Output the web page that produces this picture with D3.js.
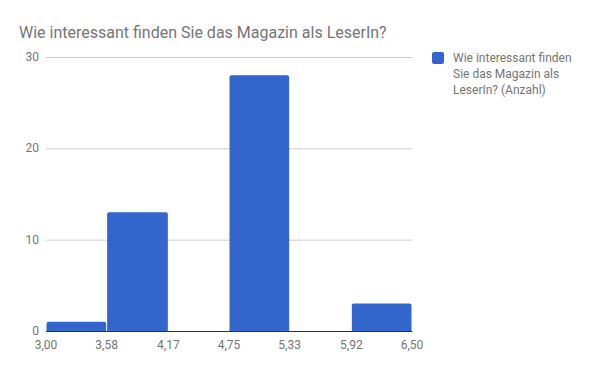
<!DOCTYPE html>
<html>
<head>
<meta charset="utf-8">
<script src="https://cdn.jsdelivr.net/npm/d3@7"></script>
<style>
  body { margin: 0; background: #fff; }
  text { font-family: Roboto, "Noto Sans", sans-serif; }
</style>
</head>
<body>
<div id="chart"></div>
<script>
// histogram bins (lower edges) and counts
const binEdges = [3.00, 3.58, 4.17, 4.75, 5.33, 5.92, 6.50];
const counts = [1, 13, 0, 28, 0, 3];
const xTickLabels = ["3,00", "3,58", "4,17", "4,75", "5,33", "5,92", "6,50"];
const yTicks = [0, 10, 20, 30];
const title = "Wie interessant finden Sie das Magazin als LeserIn?";
const legendLines = ["Wie interessant finden", "Sie das Magazin als", "LeserIn? (Anzahl)"];

const width = 600, height = 371;
const margin = { left: 46, right: 188, top: 57, bottom: 40 };
const color = "#3366cc";

const svg = d3.select("#chart").append("svg")
  .attr("width", width)
  .attr("height", height);

const x = d3.scaleLinear()
  .domain([binEdges[0], binEdges[binEdges.length - 1]])
  .range([margin.left, width - margin.right]);

const y = d3.scaleLinear()
  .domain([0, 30])
  .range([height - margin.bottom, margin.top]);

// title
svg.append("text")
  .attr("x", 19)
  .attr("y", 38)
  .attr("fill", "#757575")
  .style("font-size", "16px")
  .text(title);

// gridlines
svg.append("g")
  .selectAll("line")
  .data(yTicks.filter(d => d > 0))
  .enter()
  .append("line")
  .attr("x1", margin.left)
  .attr("x2", width - margin.right)
  .attr("y1", d => y(d) + 0.5)
  .attr("y2", d => y(d) + 0.5)
  .attr("stroke", "#cccccc");

// y labels
svg.append("g")
  .selectAll("text")
  .data(yTicks)
  .enter()
  .append("text")
  .attr("x", margin.left - 7)
  .attr("y", d => y(d) + 4)
  .attr("text-anchor", "end")
  .attr("fill", "#757575")
  .style("font-size", "12px")
  .text(d => d);

// bars
const bins = counts.map((c, i) => ({ x0: binEdges[i], x1: binEdges[i + 1], count: c }));
svg.append("g")
  .selectAll("path")
  .data(bins.filter(d => d.count > 0))
  .enter()
  .append("path")
  .attr("d", d => {
    const x0 = x(d.x0) + 0.5, x1 = x(d.x1) - 0.5;
    const y0 = y(0), y1 = y(d.count);
    const r = Math.min(2, (y0 - y1) / 2);
    return "M" + x0 + "," + y0 +
      "V" + (y1 + r) + "Q" + x0 + "," + y1 + " " + (x0 + r) + "," + y1 +
      "H" + (x1 - r) + "Q" + x1 + "," + y1 + " " + x1 + "," + (y1 + r) +
      "V" + y0 + "Z";
  })
  .attr("fill", color);

// baseline
svg.append("line")
  .attr("x1", margin.left)
  .attr("x2", width - margin.right)
  .attr("y1", y(0) + 0.5)
  .attr("y2", y(0) + 0.5)
  .attr("stroke", "#333333");

// x labels
svg.append("g")
  .selectAll("text")
  .data(binEdges)
  .enter()
  .append("text")
  .attr("x", d => x(d))
  .attr("y", y(0) + 18)
  .attr("text-anchor", "middle")
  .attr("fill", "#757575")
  .style("font-size", "12px")
  .text((d, i) => xTickLabels[i]);

// legend
const legend = svg.append("g").attr("transform", "translate(432,52)");
legend.append("rect")
  .attr("width", 12)
  .attr("height", 12)
  .attr("rx", 2)
  .attr("fill", color);
legend.selectAll("text")
  .data(legendLines)
  .enter()
  .append("text")
  .attr("x", 21)
  .attr("y", (d, i) => 10 + i * 16)
  .attr("fill", "#757575")
  .style("font-size", "12px")
  .text(d => d);
</script>
</body>
</html>
